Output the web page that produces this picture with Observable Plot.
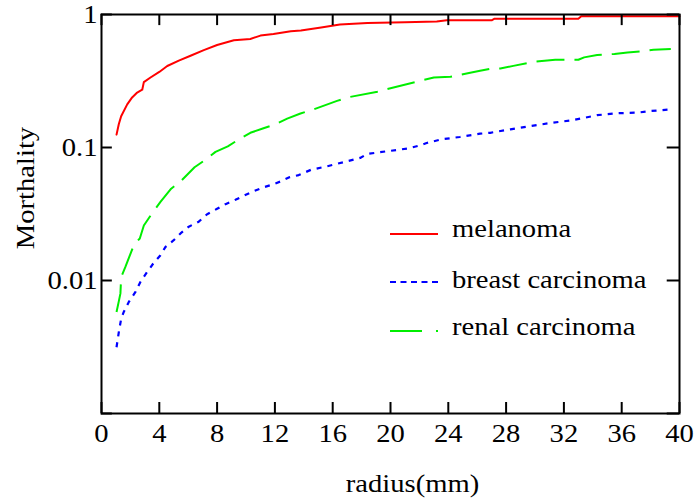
<!DOCTYPE html>
<html><head><meta charset="utf-8">
<script src="https://cdn.jsdelivr.net/npm/d3@7"></script>
<script src="https://cdn.jsdelivr.net/npm/@observablehq/plot@0.6"></script>
<style>
html,body{margin:0;padding:0;background:#fff;}
#wrap{position:relative;width:696px;height:502px;}
#legend{position:absolute;left:0;top:0;pointer-events:none;}
</style></head><body><div id="wrap"></div>
<script>
const xTicks = [0,4,8,12,16,20,24,28,32,36,40];
const yTicks = [0.001,0.01,0.1,1];
const yTickLabels = [0.01,0.1,1];
const seriesNames = ["melanoma","breast carcinoma","renal carcinoma"];
const seriesColors = ["#ff0000","#0000ff","#00ee00"];
const seriesDash = [null,"5,6","28,10"];

const melanomaX = [1.04,1.2,1.36,1.78,2.12,2.47,2.82,2.93,3.39,4.0,4.55,5.35,6.16,7.08,8.0,9.16,10.3,11.0,11.9,13.1,13.8,15.2,16.5,18.4,21.0,23.2,23.9,27.0,27.2,33.0,33.2,40];
const melanomaY = [0.125,0.15,0.172,0.211,0.238,0.259,0.272,0.31,0.336,0.37,0.41,0.45,0.49,0.54,0.59,0.64,0.655,0.694,0.714,0.748,0.757,0.80,0.84,0.865,0.875,0.885,0.905,0.905,0.93,0.93,0.97,0.97];

const breastX = [1.04,1.2,1.36,1.54,1.89,2.35,2.7,3.16,3.6,4.08,4.43,5.0,5.47,6.04,6.73,7.31,8.0,8.58,9.27,9.85,10.5,11.2,11.8,12.4,13.0,13.65,14.5,15.6,16.8,17.9,18.4,19.8,21.2,22.1,22.5,23.5,24.8,26.2,26.9,28.3,29.7,31.1,32.5,33.4,34.3,35.7,37.1,38.0,39.5];
const breastY = [0.00315,0.0041,0.00515,0.0058,0.0069,0.0082,0.0098,0.0116,0.0135,0.0155,0.0179,0.0201,0.0226,0.0254,0.0277,0.0315,0.0346,0.0375,0.0405,0.0434,0.0468,0.0501,0.0525,0.0556,0.0597,0.062,0.068,0.0722,0.0778,0.0835,0.0895,0.0938,0.0983,0.104,0.108,0.115,0.12,0.127,0.129,0.137,0.145,0.153,0.16,0.167,0.175,0.181,0.183,0.188,0.194];

const renalX = [1.04,1.2,1.31,1.36,1.66,2.24,2.65,2.93,3.5,4.08,4.82,5.47,6.44,7.04,7.89,8.74,9.5,10.3,11.16,12.0,12.85,13.77,14.7,16.3,17.2,19.1,20.0,21.85,23.0,24.15,24.8,25.6,26.2,27.0,27.6,28.5,29.9,31.4,33.0,33.4,34.3,35.5,36.4,37.3,38.2,39.4];
const renalY = [0.0058,0.007,0.008,0.0106,0.0127,0.0185,0.0207,0.0259,0.032,0.039,0.049,0.0556,0.071,0.0787,0.0927,0.102,0.115,0.129,0.139,0.149,0.165,0.18,0.194,0.224,0.24,0.263,0.279,0.313,0.336,0.34,0.352,0.366,0.377,0.393,0.393,0.411,0.441,0.457,0.457,0.476,0.496,0.505,0.519,0.528,0.544,0.55];

const xLabel = "radius(mm)";
const yLabel = "Morthality";

const toRows = (xs, ys) => xs.map((x, i) => ({x, y: ys[i]}));
const melanoma = toRows(melanomaX, melanomaY);
const breast = toRows(breastX, breastY);
const renal = toRows(renalX, renalY);

const serifFont = "Liberation Serif";

const chart = Plot.plot({
  width: 696, height: 502,
  marginLeft: 101, marginRight: 17, marginTop: 14, marginBottom: 89,
  style: {fontSize: "26px", background: "#fff", color: "#000", overflow: "visible"},
  x: {type: "linear", domain: [0, 40]},
  y: {type: "log", domain: [0.001, 1]},
  marks: [
    Plot.line(renal, {x: "x", y: "y", stroke: seriesColors[2], strokeWidth: 2, strokeDasharray: seriesDash[2], strokeLinecap: "butt"}),
    Plot.line(breast, {x: "x", y: "y", stroke: seriesColors[1], strokeWidth: 2.2, strokeDasharray: seriesDash[1], strokeLinecap: "butt"}),
    Plot.line(melanoma, {x: "x", y: "y", stroke: seriesColors[0], strokeWidth: 2}),
    Plot.ruleY(yTicks, {y: d => d, x1: 0, x2: 0.75, stroke: "#000", strokeWidth: 2}),
    Plot.ruleY(yTicks, {y: d => d, x1: 39.15, x2: 40, stroke: "#000", strokeWidth: 2}),
    Plot.ruleX(xTicks, {x: d => d, y1: 1, y2: 0.825, stroke: "#000", strokeWidth: 2}),
    Plot.ruleX(xTicks, {x: d => d, y1: 0.001, y2: 0.00121, stroke: "#000", strokeWidth: 2}),
    Plot.frame({stroke: "#000", strokeWidth: 2}),
    Plot.axisX({ticks: xTicks, tickSize: 0, tickPadding: 10, label: null, tickFormat: d => String(d)}),
    Plot.axisY({ticks: yTickLabels, tickSize: 0, tickPadding: 4, label: null, tickFormat: d => String(d)}),
    Plot.text([xLabel], {frameAnchor: "bottom", textAnchor: "middle", lineAnchor: "middle", dx: 22, dy: 70, fontSize: 26, fill: "#000"}),
    Plot.text([yLabel], {frameAnchor: "left", textAnchor: "middle", lineAnchor: "middle", rotate: -90, dx: -76, dy: -26, fontSize: 26, fill: "#000"})
  ]
});
document.getElementById("wrap").appendChild(chart);

// legend overlay
const leg = d3.select("#wrap").append("svg").attr("id", "legend")
  .attr("width", 696).attr("height", 502);
const rowY = [234, 282, 331];
seriesNames.forEach((name, i) => {
  leg.append("line").attr("x1", 390).attr("x2", 438).attr("y1", rowY[i]).attr("y2", rowY[i])
    .attr("stroke", seriesColors[i]).attr("stroke-width", 2)
    .attr("stroke-dasharray", i === 2 ? "32,14" : (i === 1 ? "6,4.5" : null));
  leg.append("text").attr("x", 452).attr("y", rowY[i] + (i === 0 ? 3 : (i === 1 ? 6 : 4)))
    .attr("font-size", 26).attr("fill", "#000").text(name);
});

d3.select("#wrap").selectAll("svg").style("font-family", serifFont);
d3.select("#wrap").selectAll("text").style("font-family", serifFont).each(function() {
  const len = this.getComputedTextLength();
  if (len > 0) {
    this.setAttribute("textLength", (len * 1.1).toFixed(1));
    this.setAttribute("lengthAdjust", "spacingAndGlyphs");
  }
});
</script></body></html>
